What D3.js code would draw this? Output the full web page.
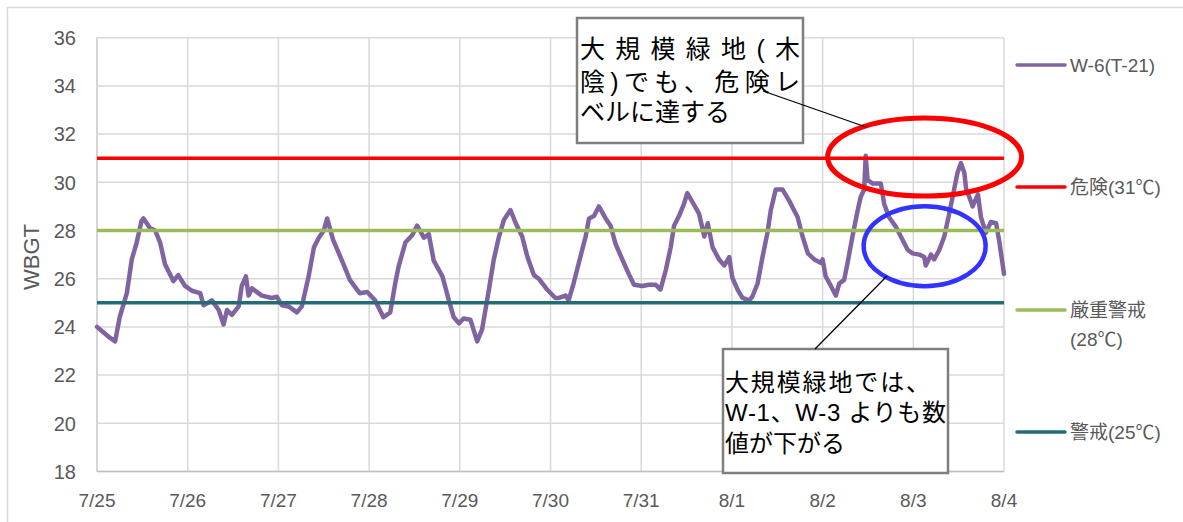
<!DOCTYPE html>
<html>
<head>
<meta charset="utf-8">
<script src="https://cdn.jsdelivr.net/npm/d3@7"></script>
<style>
  html, body { margin: 0; padding: 0; background: #fff; }
  svg { display: block; }
  .tick-label { font-family: "Liberation Sans", "Noto Sans CJK JP", sans-serif; fill: #595959; }
  .note { font-family: "Liberation Sans", "Noto Sans CJK JP", sans-serif; fill: #000; }
</style>
</head>
<body>
<svg id="chart" width="1183" height="522"></svg>
<script>
// ---------------- data ----------------
const dayLabels = ["7/25","7/26","7/27","7/28","7/29","7/30","7/31","8/1","8/2","8/3","8/4"];
const yTicks = [18,20,22,24,26,28,30,32,34,36];
const seriesName = "W-6(T-21)";
// hours elapsed since 7/25 0:00
const hours = [
  0,3,4.8,6,7.9,9.2,10.5,11.8,12.3,14,15.4,16.7,18,20.2,21.5,23.3,
  25.1,27.3,28.2,30.4,32.2,33.5,34.4,35.7,37.5,38.3,39.4,40.1,41,43.6,46.3,47.6,
  48.9,50.7,52.9,54.2,56,57.4,58.7,60,60.9,62.5,65.1,66.9,69.5,71.5,
  73.6,75.8,77.6,78.9,79.8,81.6,83.4,84.7,86.5,87.8,89.1,91.4,93.1,94.4,95.8,
  97,98.8,100.6,101.9,103.7,105,106.3,107.7,109.4,110.8,112.5,113.9,115.6,116.9,119.1,
  121.3,122.2,124,124.8,126.1,127.9,129.3,130.2,131.5,132.8,134.6,135.9,137.2,139,140.7,142.1,
  144.3,146,147.8,149.1,150.5,151.8,152.7,154,155.3,156.2,157.5,159.3,160.7,161.6,162.9,164.6,166,167.3,
  168.1,169.5,170.8,172.6,173.4,174.8,176.1,177.4,178.3,179.6,181.4,183.1,185.4,186.7,188.1,189.8,191.6,
  192,192.8,194.2,195.5,196.4,197.7,198.6,199.9,201.3,202.1,203,203.4,203.9,205.2,207.4,208.3,209.6,211.4,212.7,214.5,215.8,
  217.6,218.9,219.3,220.7,221.5,222.9,224.2,225.5,226.8,227.7,228.6,229.5,230,230.8,231.7,233.1,233.9,235.2,236.5,237.9,238.7,240
];
const wbgt = [
  24.0,23.6,23.4,24.4,25.4,26.8,27.5,28.4,28.5,28.1,28.0,27.5,26.6,25.9,26.15,25.7,
  25.5,25.4,24.9,25.1,24.7,24.1,24.7,24.5,24.85,25.7,26.1,25.3,25.6,25.3,25.2,25.25,
  24.9,24.85,24.6,24.85,26.1,27.3,27.7,28.0,28.5,27.6,26.65,25.95,25.4,25.45,
  25.1,24.4,24.6,25.8,26.5,27.5,27.8,28.2,27.7,27.85,26.75,26.1,25.1,24.4,24.15,
  24.35,24.3,23.4,23.9,25.55,26.8,27.7,28.45,28.85,28.3,27.75,26.9,26.15,26.0,25.55,
  25.2,25.2,25.3,25.1,25.8,26.9,27.75,28.5,28.6,29.0,28.5,28.2,27.45,26.8,26.2,25.75,
  25.7,25.75,25.75,25.55,26.35,27.3,28.2,28.6,29.1,29.55,29.2,28.7,27.75,28.3,27.3,26.8,26.55,26.9,
  26.05,25.55,25.2,25.1,25.25,25.8,26.9,27.9,28.85,29.7,29.7,29.25,28.55,27.75,27.05,26.8,26.65,
  26.8,26.1,25.7,25.3,25.8,25.95,26.65,27.75,28.85,29.4,29.7,31.1,30.1,29.95,29.95,29.1,28.55,28.15,27.75,27.2,27.05,
  27.0,26.9,26.55,27.0,26.8,27.2,27.75,28.7,29.7,30.4,30.8,30.4,29.7,29.4,29.0,29.5,28.55,27.9,28.35,28.3,27.6,26.2
];
const thresholdNames = ["危険(31℃)", "厳重警戒(28℃)", "警戒(25℃)"];
const thresholdValues = [31, 28, 25];
const note1Lines = ["大規模緑地(木", "陰)でも、危険レ", "ベルに達する"];
const note2Lines = ["大規模緑地では、", "W-1、W-3 よりも数", "値が下がる"];

// ---------------- styles ----------------
const seriesColor = "#8064A2";
const thresholdColors = ["#FF0000", "#9BBB59", "#236B75"];

// ---------------- layout ----------------
const svg = d3.select("#chart");
const plot = { left: 97, right: 1004, top: 37.7, bottom: 471.5 };
const x = d3.scaleLinear().domain([0, (dayLabels.length - 1) * 24]).range([plot.left, plot.right]);
const y = d3.scaleLinear().domain([18, 36]).range([plot.bottom, plot.top]);

// outer border
svg.append("rect").attr("x", 7.5).attr("y", 7.5).attr("width", 1180).attr("height", 520)
  .attr("fill", "#fff").attr("stroke", "#d9d9d9").attr("stroke-width", 1.5);

// grid
const g = svg.append("g");
g.selectAll(".hg").data(yTicks).enter().append("line")
  .attr("x1", plot.left).attr("x2", plot.right)
  .attr("y1", d => y(d)).attr("y2", d => y(d))
  .attr("stroke", "#d9d9d9").attr("stroke-width", 1.5);
g.selectAll(".vg").data(dayLabels).enter().append("line")
  .attr("x1", (d, i) => x(i * 24)).attr("x2", (d, i) => x(i * 24))
  .attr("y1", plot.top).attr("y2", plot.bottom)
  .attr("stroke", "#d9d9d9").attr("stroke-width", 1.5);

// axes lines
g.append("line").attr("x1", plot.left).attr("x2", plot.left).attr("y1", plot.top).attr("y2", plot.bottom)
  .attr("stroke", "#d0d0d0").attr("stroke-width", 1.5);
g.append("line").attr("x1", plot.left).attr("x2", plot.right).attr("y1", plot.bottom).attr("y2", plot.bottom)
  .attr("stroke", "#bfbfbf").attr("stroke-width", 1.5);

// y tick labels
g.selectAll(".yl").data(yTicks).enter().append("text")
  .attr("class", "tick-label")
  .attr("x", 76).attr("y", d => y(d)).attr("dy", "0.36em")
  .attr("text-anchor", "end").attr("font-size", 20)
  .text(d => d);

// x tick labels
g.selectAll(".xl").data(dayLabels).enter().append("text")
  .attr("class", "tick-label")
  .attr("x", (d, i) => x(i * 24)).attr("y", 507)
  .attr("text-anchor", "middle").attr("font-size", 19)
  .text(d => d);

// y axis title
svg.append("text").attr("class", "tick-label")
  .attr("transform", "translate(39,257) rotate(-90)")
  .attr("text-anchor", "middle").attr("font-size", 22)
  .text("WBGT");

// series
const pts = hours.map((h, i) => [h, wbgt[i]]);
const line = d3.line().x(d => x(d[0])).y(d => y(d[1]));
svg.append("path").datum(pts).attr("d", line)
  .attr("fill", "none").attr("stroke", seriesColor).attr("stroke-width", 4.5)
  .attr("stroke-linejoin", "round").attr("stroke-linecap", "round");

// thresholds
svg.selectAll(".th").data(thresholdValues).enter().append("line")
  .attr("x1", plot.left).attr("x2", plot.right)
  .attr("y1", d => y(d)).attr("y2", d => y(d))
  .attr("stroke", (d, i) => thresholdColors[i]).attr("stroke-width", 3.5);

// legend
const legendItems = [
  { label: [seriesName], color: seriesColor, y: 65 },
  { label: [thresholdNames[0]], color: thresholdColors[0], y: 187 },
  { label: ["厳重警戒", "(28℃)"], color: thresholdColors[1], y: 310 },
  { label: [thresholdNames[2]], color: thresholdColors[2], y: 432 }
];
const lg = svg.append("g");
legendItems.forEach(it => {
  lg.append("line").attr("x1", 1017).attr("x2", 1065).attr("y1", it.y).attr("y2", it.y)
    .attr("stroke", it.color).attr("stroke-width", 3.5).attr("stroke-linecap", "round");
  it.label.forEach((t, j) => {
    lg.append("text").attr("class", "tick-label").attr("font-size", 19)
      .attr("x", 1070).attr("y", it.y + j * 29).attr("dy", "0.36em").text(t);
  });
});

// ellipses
svg.append("ellipse").attr("cx", x(219)).attr("cy", y(31.05)).attr("rx", 97).attr("ry", 39)
  .attr("fill", "none").attr("stroke", "#FF0000").attr("stroke-width", 5);
svg.append("ellipse").attr("cx", x(219)).attr("cy", y(27.35)).attr("rx", 61).attr("ry", 40)
  .attr("fill", "none").attr("stroke", "#3333FF").attr("stroke-width", 4.5);

// annotation box 1
const nb1 = svg.append("g");
nb1.append("rect").attr("x", 577).attr("y", 18).attr("width", 226).attr("height", 125)
  .attr("fill", "#fff").attr("stroke", "#7f7f7f").attr("stroke-width", 2.5);
const n1y = [58, 91, 121];
note1Lines.forEach((t, i) => {
  const tx = nb1.append("text").attr("class", "note").attr("font-size", 25)
    .attr("x", 580).attr("y", n1y[i]).text(t);
  if (i < 2) tx.attr("textLength", 220).attr("lengthAdjust", "spacing");
});
svg.append("line").attr("x1", 763).attr("y1", 91).attr("x2", 866).attr("y2", 127)
  .attr("stroke", "#000").attr("stroke-width", 1.3);

// annotation box 2
const nb2 = svg.append("g");
nb2.append("rect").attr("x", 723).attr("y", 349).attr("width", 225).attr("height", 124)
  .attr("fill", "#fff").attr("stroke", "#7f7f7f").attr("stroke-width", 2.5);
const n2y = [391, 421, 452];
note2Lines.forEach((t, i) => {
  const tx = nb2.append("text").attr("class", "note").attr("font-size", 24)
    .attr("x", 725).attr("y", n2y[i]).text(t);
  if (i < 2) tx.attr("textLength", i === 0 ? 205 : 221).attr("lengthAdjust", "spacing");
});
svg.append("line").attr("x1", 887).attr("y1", 276).attr("x2", 815).attr("y2", 349)
  .attr("stroke", "#000").attr("stroke-width", 1.3);
</script>
</body>
</html>
